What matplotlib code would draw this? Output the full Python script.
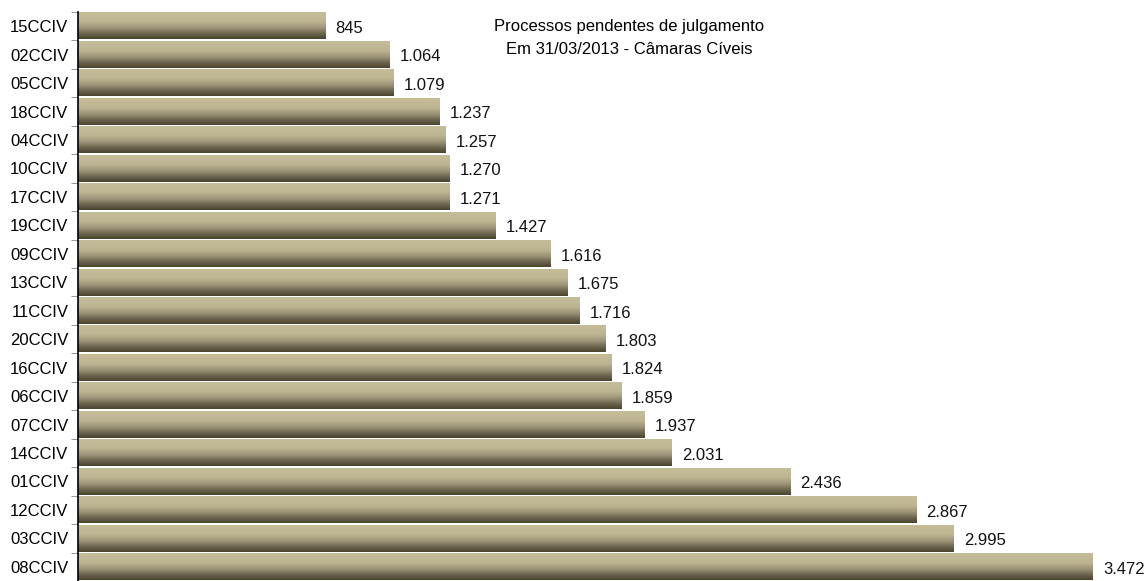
import numpy as np
import matplotlib
matplotlib.use("Agg")
import matplotlib.pyplot as plt
from matplotlib.colors import LinearSegmentedColormap

plt.rcParams['font.family'] = ['Liberation Sans', 'DejaVu Sans']

# data, top to bottom as in the chart
camaras = ['15CCIV', '02CCIV', '05CCIV', '18CCIV', '04CCIV', '10CCIV', '17CCIV',
           '19CCIV', '09CCIV', '13CCIV', '11CCIV', '20CCIV', '16CCIV', '06CCIV',
           '07CCIV', '14CCIV', '01CCIV', '12CCIV', '03CCIV', '08CCIV']
pendentes = [845, 1064, 1079, 1237, 1257, 1270, 1271, 1427, 1616, 1675, 1716,
             1803, 1824, 1859, 1937, 2031, 2436, 2867, 2995, 3472]

def fmt(v):
    return f"{v:,}".replace(",", ".")

# gradient: bottom dark -> top light
cmap = LinearSegmentedColormap.from_list('bar', [
    (0.0, '#4a4430'), (0.2, '#6d6650'), (0.4, '#9a9275'),
    (0.65, '#bdb492'), (1.0, '#c5bc98')])
grad = np.linspace(0, 1, 64).reshape(-1, 1)

fig = plt.figure(figsize=(11.45, 5.81), dpi=100)
ax = fig.add_axes([78 / 1145, 0, 1 - 78 / 1145, 1 - 12 / 581])

n = len(camaras)
h = 0.93
for i, (cam, v) in enumerate(zip(camaras, pendentes)):
    y = n - 1 - i
    ax.imshow(grad, extent=(0, v, y - h / 2, y + h / 2), origin='lower',
              aspect='auto', cmap=cmap, interpolation='bilinear')
    ax.text(v + 35, y - 0.08, fmt(v), va='center', ha='left', fontsize=12,
            color='#111111')

ax.set_xlim(0, 3650)
ax.set_ylim(-0.5, n - 0.5)
ax.set_yticks(range(n))
ax.set_yticklabels(camaras[::-1], fontsize=12)
ax.set_yticks(np.arange(-0.5, n, 1), minor=True)
ax.tick_params(axis='y', which='major', length=0, pad=7)
ax.tick_params(axis='y', which='minor', length=5, color='#888888')
ax.set_xticks([])
for s in ['top', 'right', 'bottom']:
    ax.spines[s].set_visible(False)
ax.spines['left'].set_linewidth(1.2)

fig.text(629 / 1145, 1 - 26 / 581, 'Processos pendentes de julgamento',
         ha='center', va='center', fontsize=12)
fig.text(629 / 1145, 1 - 49 / 581, 'Em 31/03/2013 - Câmaras Cíveis',
         ha='center', va='center', fontsize=12)

fig.savefig('out.png', dpi=100)
